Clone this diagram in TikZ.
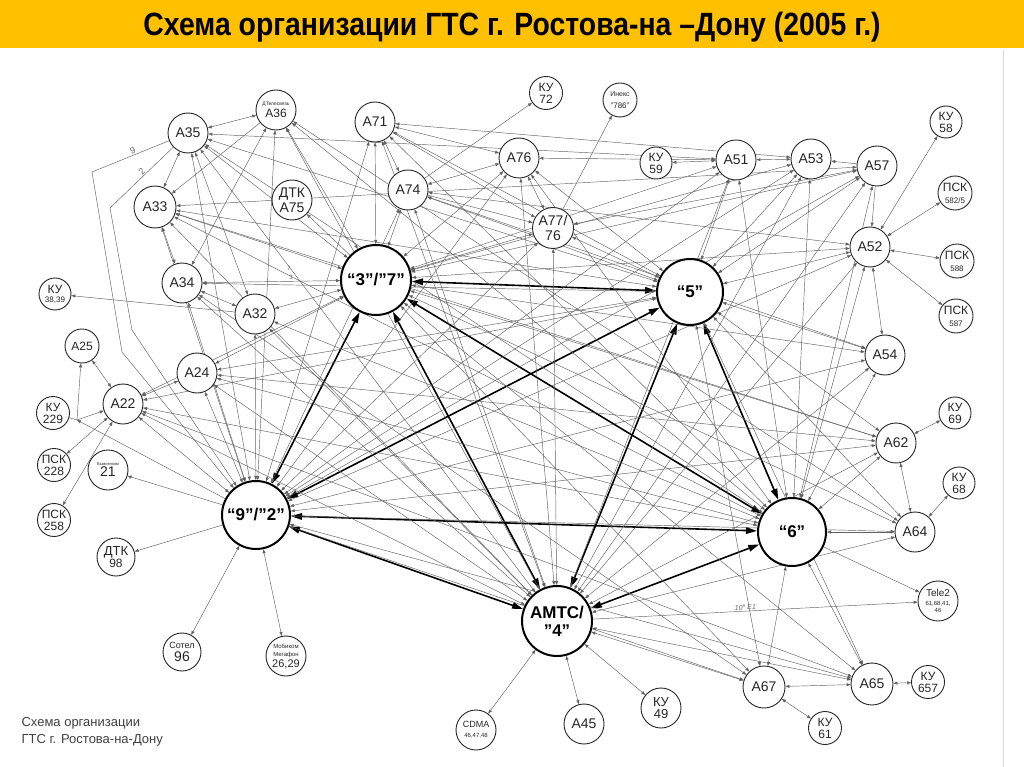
\documentclass[tikz,border=0pt]{standalone}
\usepackage{fontspec}
\usepackage{graphicx}
\setmainfont{Liberation Sans}
\usetikzlibrary{arrows.meta}
\definecolor{ttl}{HTML}{FFC000}
\pgfdeclarelayer{bg}
\pgfdeclarelayer{paper}
\pgfsetlayers{paper,bg,main}
\tikzset{
  nd/.style={circle,draw=black!85,line width=0.9pt,fill=white,inner sep=0pt,align=center,text=black!85,font=\fontsize{14}{15}\selectfont},
  sm/.style={nd,font=\fontsize{12}{12}\selectfont},
  big/.style={circle,draw=black,line width=2pt,fill=white,inner sep=0pt,align=center,font=\bfseries\fontsize{17}{19}\selectfont},
  thn/.style={draw=black!62,line width=0.45pt},
  bi/.style={thn,{Triangle[length=4pt,width=3pt]}-{Triangle[length=4pt,width=3pt]}},
  uni/.style={thn,-{Triangle[length=4pt,width=3pt]}},
  thk/.style={draw=black,line width=1.6pt,{Triangle[length=11pt,width=6.5pt]}-{Triangle[length=11pt,width=6.5pt]}},
  stray/.style={text=black!60,inner sep=0pt}
}
\begin{document}
\begin{tikzpicture}[x=1pt,y=-1pt]
\useasboundingbox (0,0) rectangle (1024,767);
\begin{pgfonlayer}{paper}
\fill[white] (0,0) rectangle (1024,767);
\fill[ttl] (0,0) rectangle (1024,48);
\draw[black!15,line width=1pt] (1003,50) -- (1003,767);
\end{pgfonlayer}
\node (title) at (512,27) {\resizebox*{737pt}{30pt}{\bfseries Схема организации ГТС г. Ростова-на –Дону (2005 г.)}};

% big nodes
\node[big,minimum size=70pt] (b37) at (376,280) {“3”/”7”};
\node[big,minimum size=66pt] (b5) at (690,292) {“5”};
\node[big,minimum size=68pt] (b92) at (256,515) {“9”/”2”};
\node[big,minimum size=68pt] (b6) at (792,532) {“6”};
\node[big,minimum size=70pt] (amts) at (557,621) {АМТС/\\[-1pt]”4”};

% small nodes
\node[nd,minimum size=40pt] (a35) at (188,133) {А35};
\node[nd,minimum size=40pt] (a36) at (276,110) {{\fontsize{5}{5}\selectfont ДТелесвязь}\\[-3pt]{\fontsize{12}{12}\selectfont А36}};
\node[nd,minimum size=40pt] (a71) at (375,122) {А71};
\node[sm,minimum size=33pt] (ku72) at (546,93) {КУ\\72};
\node[nd,minimum size=34pt] (inex) at (620,100) {{\fontsize{7}{7}\selectfont Инекс}\\[-3pt]{\fontsize{8}{8}\selectfont ”786”}};
\node[nd,minimum size=40pt] (a76) at (519,158) {А76};
\node[nd,minimum size=40pt] (a74) at (408,190) {А74};
\node[nd,minimum size=41pt] (a77) at (553,228) {А77/\\76};
\node[nd,minimum size=40pt] (a75) at (292,200) {ДТК\\А75};
\node[nd,minimum size=42pt] (a33) at (155,207) {А33};
\node[nd,minimum size=40pt] (a34) at (182,283) {А34};
\node[nd,minimum size=40pt] (a32) at (255,314) {А32};
\node[sm,minimum size=32pt] (ku3839) at (55,294) {КУ\\[-3pt]{\fontsize{8}{8}\selectfont 38,39}};
\node[nd,minimum size=34pt] (a25) at (82,346) {{\fontsize{12}{12}\selectfont А25}};
\node[nd,minimum size=40pt] (a22) at (123,404) {А22};
\node[nd,minimum size=40pt] (a24) at (197,373) {А24};
\node[sm,minimum size=33pt] (ku229) at (53,413) {КУ\\229};
\node[sm,minimum size=33pt] (psk228) at (54,465) {ПСК\\228};
\node[sm,minimum size=33pt] (psk258) at (54,520) {ПСК\\258};
\node[nd,minimum size=40pt] (v21) at (108,470) {{\fontsize{4}{4}\selectfont Вымпелком}\\[-4pt]{\fontsize{14}{14}\selectfont 21}};
\node[sm,minimum size=38pt] (dtk98) at (116,557) {{\fontsize{13}{13}\selectfont ДТК}\\98};
\node[nd,minimum size=38pt] (sot96) at (182,652) {{\fontsize{9}{9}\selectfont Сотел}\\[-2pt]96};
\node[nd,minimum size=40pt] (mob) at (286,656) {{\fontsize{6}{6}\selectfont Мобиком}\\[-7pt]{\fontsize{6}{6}\selectfont Мегафон}\\[-4pt]{\fontsize{11}{11}\selectfont 26,29}};
\node[sm,minimum size=32pt] (ku59) at (656,163) {КУ\\59};
\node[nd,minimum size=40pt] (a51) at (736,160) {А51};
\node[nd,minimum size=40pt] (a53) at (811,159) {А53};
\node[nd,minimum size=40pt] (a57) at (877,166) {А57};
\node[sm,minimum size=32pt] (ku58) at (946,122) {КУ\\58};
\node[nd,minimum size=34pt] (psk582) at (955,193) {{\fontsize{12}{12}\selectfont ПСК}\\[-3pt]{\fontsize{8}{8}\selectfont 582/5}};
\node[nd,minimum size=40pt] (a52) at (870,247) {А52};
\node[nd,minimum size=34pt] (psk588) at (957,261) {{\fontsize{12}{12}\selectfont ПСК}\\[-3pt]{\fontsize{8}{8}\selectfont 588}};
\node[nd,minimum size=34pt] (psk587) at (956,316) {{\fontsize{12}{12}\selectfont ПСК}\\[-3pt]{\fontsize{8}{8}\selectfont 587}};
\node[nd,minimum size=40pt] (a54) at (885,355) {А54};
\node[sm,minimum size=32pt] (ku69) at (955,413) {КУ\\69};
\node[nd,minimum size=40pt] (a62) at (896,443) {А62};
\node[sm,minimum size=32pt] (ku68) at (959,483) {КУ\\68};
\node[nd,minimum size=40pt] (a64) at (915,532) {А64};
\node[nd,minimum size=40pt] (tele2) at (938,601) {{\fontsize{10}{10}\selectfont Tele2}\\[-6pt]{\fontsize{6}{6}\selectfont 61,68,41,}\\[-8pt]{\fontsize{6}{6}\selectfont 46}};
\node[nd,minimum size=40pt] (cdma) at (476,730) {{\fontsize{9}{9}\selectfont CDMA}\\[-5pt]{\fontsize{6}{6}\selectfont 46,47,48}};
\node[nd,minimum size=40pt] (a45) at (584,724) {А45};
\node[sm,minimum size=40pt] (ku49) at (661,708) {{\fontsize{13}{13}\selectfont КУ}\\{\fontsize{13}{13}\selectfont 49}};
\node[nd,minimum size=42pt] (a67) at (764,687) {А67};
\node[nd,minimum size=42pt] (a65) at (872,684) {А65};
\node[sm,minimum size=33pt] (ku657) at (928,682) {КУ\\657};
\node[sm,minimum size=33pt] (ku61) at (825,728) {КУ\\61};

% caption and stray labels
\node[anchor=west,align=left,text=black!75,font=\fontsize{13}{17}\selectfont] (cap) at (18,732) {Схема организации\\ГТС г. Ростова-на-Дону};
\node[stray,font=\fontsize{6}{6}\selectfont] (l7) at (289,268) {7};
\node[stray,font=\fontsize{6}{6}\selectfont] (l3) at (291,277) {3};
\coordinate (j229) at (77,420);
\coordinate (p9a) at (92,172);
\coordinate (p9b) at (122,352);
\coordinate (p2a) at (110,208);
\coordinate (p2b) at (132,330);

\begin{pgfonlayer}{bg}
% thick trunk connections between the main exchanges
\foreach \a/\b in {b37/b5,b37/b92,b37/amts,b37/b6,b5/b92,b5/amts,b5/b6,b92/b6,b92/amts,b6/amts}
  \draw[thk] (\a) -- (\b);
% local two-way links
\foreach \a/\b in {a35/a36,a35/a33,a33/a34,a34/a32,a71/a74,a71/a76,a74/a76,a76/a77,ku59/a51,a51/a53,a52/ku58,a52/psk582,a52/psk588,a52/psk587,a62/ku69,a64/ku68,a67/a65,a65/ku657,a67/ku61,amts/cdma,amts/a45,amts/ku49,b92/sot96,b92/mob,a22/a25,a22/psk228,a22/psk258,a22/a24,a52/a54,a62/a64,b6/a64,a35/a32,a36/a34}
  \draw[bi] (\a) -- (\b);
% one-way links
\foreach \a/\b in {a36/a33,a57/a53,a57/a52,a74/ku72,a77/inex,b92/dtk98,b92/v21,b6/tele2,a32/ku3839,b37/a75,a71/a77,a74/a77}
  \draw[uni] (\a) -- (\b);
\draw[uni] (amts) -- node[stray,sloped,above=1pt,font=\itshape\fontsize{7}{7}\selectfont,pos=0.47] (le1) {10* E1} (tele2);
% junction at KU 229
\draw[thn] (ku229) -- (j229);
\draw[uni] (j229) -- (a25);
\draw[uni] (j229) -- (a22);
\draw[uni] (b92) -- (j229);
% bent lines labelled 9 and 2
\draw[uni] (a35) -- node[stray,sloped,above=1pt,font=\fontsize{9}{9}\selectfont,pos=0.45] (l9) {9} (p9a) -- (p9b) -- (b92);
\draw[uni] (a35) -- node[stray,sloped,above=1pt,font=\fontsize{9}{9}\selectfont,pos=0.45] (l2) {2} (p2a) -- (p2b) -- (b92);
% links from the district exchanges to the main exchanges
\foreach \s/\list in {a35/{b37,b92,b5,amts,b6},a36/{b37,b92,b6,amts},a33/{b37,b5,b6,amts,b92},a34/{b37,b5,b92,amts},a32/{b37,b92,b6,amts},a24/{b37,b5,b92,b6,amts},a22/{b37,b5,b6,amts,b92},a71/{b37,b92,b5,amts,b6},a74/{b37,b92,b5,amts},a76/{b37,b92,b5,amts,b6},a77/{b37,b92,b5,amts},a51/{b37,b5,b92,amts,b6},a53/{b37,b5,b92,amts,b6},a57/{b37,b5,b92,amts,b6},a52/{b37,b5,b92,amts,b6},a54/{b37,b5,b92,amts,b6},a62/{b37,b5,b92,amts,b6},a64/{b37,b5,b92,amts},a67/{b37,b5,b92,amts,b6},a65/{b37,b5,b92,amts,b6}}
  \foreach \t in \list
    \draw[bi] (\s) -- (\t);
% cross links between districts
\foreach \a/\b in {a33/a57,a35/a51,a74/a52,a71/a53,a36/a64,a74/a54,a33/a62,a22/a65,a24/a62,a34/a67,a76/a51,a77/a57}
  \draw[bi] (\a) -- (\b);
\end{pgfonlayer}
\end{tikzpicture}
\end{document}
